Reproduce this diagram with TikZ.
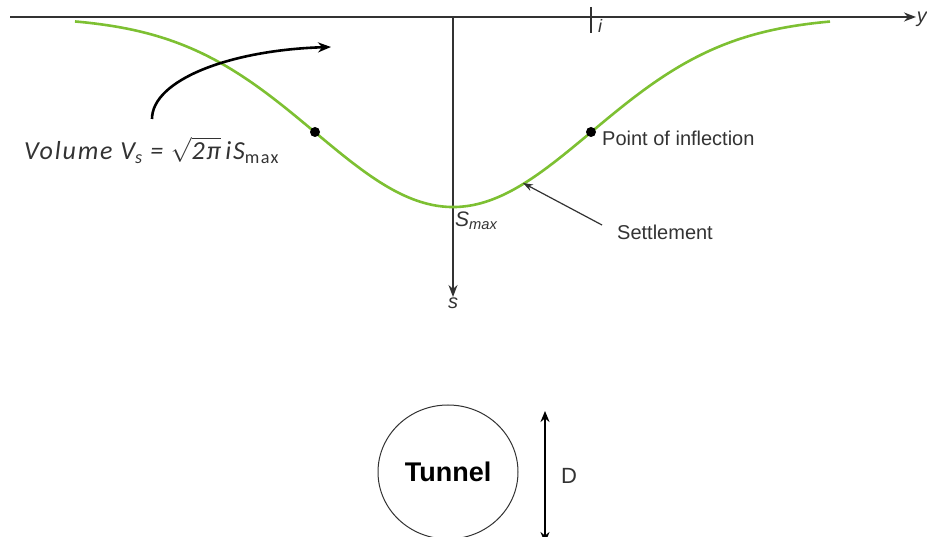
\documentclass[tikz,border=0pt]{standalone}
\usepackage{fontspec}
\setmainfont{Liberation Sans}
\newfontfamily\calib[LetterSpace=7]{Carlito}
\usetikzlibrary{arrows.meta,shapes.geometric}
\definecolor{curvegreen}{RGB}{125,192,50}
\definecolor{axisgray}{RGB}{50,50,50}
\tikzset{
  axisline/.style={draw=axisgray, line width=1.6pt},
  settle/.style={draw=curvegreen, line width=2.6pt},
  ipoint/.style={circle, fill=black, inner sep=0pt, minimum size=10pt},
  lbl/.style={font=\fontsize{20}{24}\selectfont, text=black!80, inner sep=0pt},
}
\begin{document}
\begin{tikzpicture}[x=1pt,y=-1pt]
\useasboundingbox (0,0) rectangle (927,537);
% axes
\coordinate (yl) at (10,17);
\coordinate (yr) at (916,17);
\coordinate (origin) at (453,17);
\coordinate (sb) at (453,297);
\draw[axisline, -{Stealth[length=12pt,width=9pt]}] (yl) -- (yr);
\draw[axisline, -{Stealth[length=12pt,width=9pt]}] (origin) -- (sb);
\node[lbl, anchor=east, font=\fontsize{20}{24}\selectfont\itshape] (ylab) at (927,19) {y};
\node[lbl, anchor=north, font=\fontsize{20}{24}\selectfont\itshape] (slab) at (453,298) {s};
% tick i
\coordinate (ti) at (591,7);
\coordinate (tb) at (591,33);
\draw[axisline] (ti) -- (tb);
\node[lbl, anchor=north west, font=\fontsize{18}{22}\selectfont\itshape] (ilab) at (598,19) {i};
% settlement trough
\draw[settle] plot[domain=75:830, samples=120, smooth] (\x, {17+190*exp(-0.5*((\x-453)/138)^2)});
\node[ipoint] (pl) at (315,132) {};
\node[ipoint] (pr) at (591,132) {};
\node[lbl, anchor=west] (poi) at (602,138) {Point of inflection};
% Smax
\node[lbl, anchor=north west, font=\fontsize{21}{24}\selectfont\itshape] (smax) at (455,212) {S\textsubscript{max}};
% settlement label and arrow
\node[lbl, anchor=west] (setl) at (617,232) {Settlement};
\coordinate (stail) at (602,225);
\coordinate (shead) at (523,183);
\draw[draw=axisgray, line width=1.2pt, -{Stealth[length=10pt,width=7pt]}] (stail) -- (shead);
% volume formula
\node[anchor=west, inner sep=0pt, text=black!80] (vol) at (24,150)
  {\calib\itshape\fontsize{26}{29}\selectfont Volume V\textsubscript{s} = $\sqrt{\mbox{\calib\itshape\fontsize{26}{29}\selectfont 2π}}$\,iS\textsubscript{\upshape max}};
\coordinate (vstart) at (152,119);
\coordinate (vend) at (331,47);
\draw[black, line width=2.6pt, -{Stealth[length=13pt,width=10pt]}] (vstart) .. controls (152,80) and (230,50) .. (vend);
% tunnel
\node[draw=axisgray, line width=1pt, ellipse, minimum width=140pt, minimum height=134pt, inner sep=0pt,
      font=\fontsize{27}{30}\selectfont\bfseries] (tunnel) at (448,472) {Tunnel};
\coordinate (dt) at (545,411);
\coordinate (db) at (545,543);
\draw[black, line width=2pt, {Stealth[length=11pt,width=9pt]}-{Stealth[length=11pt,width=9pt]}] (db) -- (dt);
\node[lbl, anchor=west, font=\fontsize{22}{26}\selectfont] (dlab) at (561,476) {D};
\end{tikzpicture}
\end{document}
